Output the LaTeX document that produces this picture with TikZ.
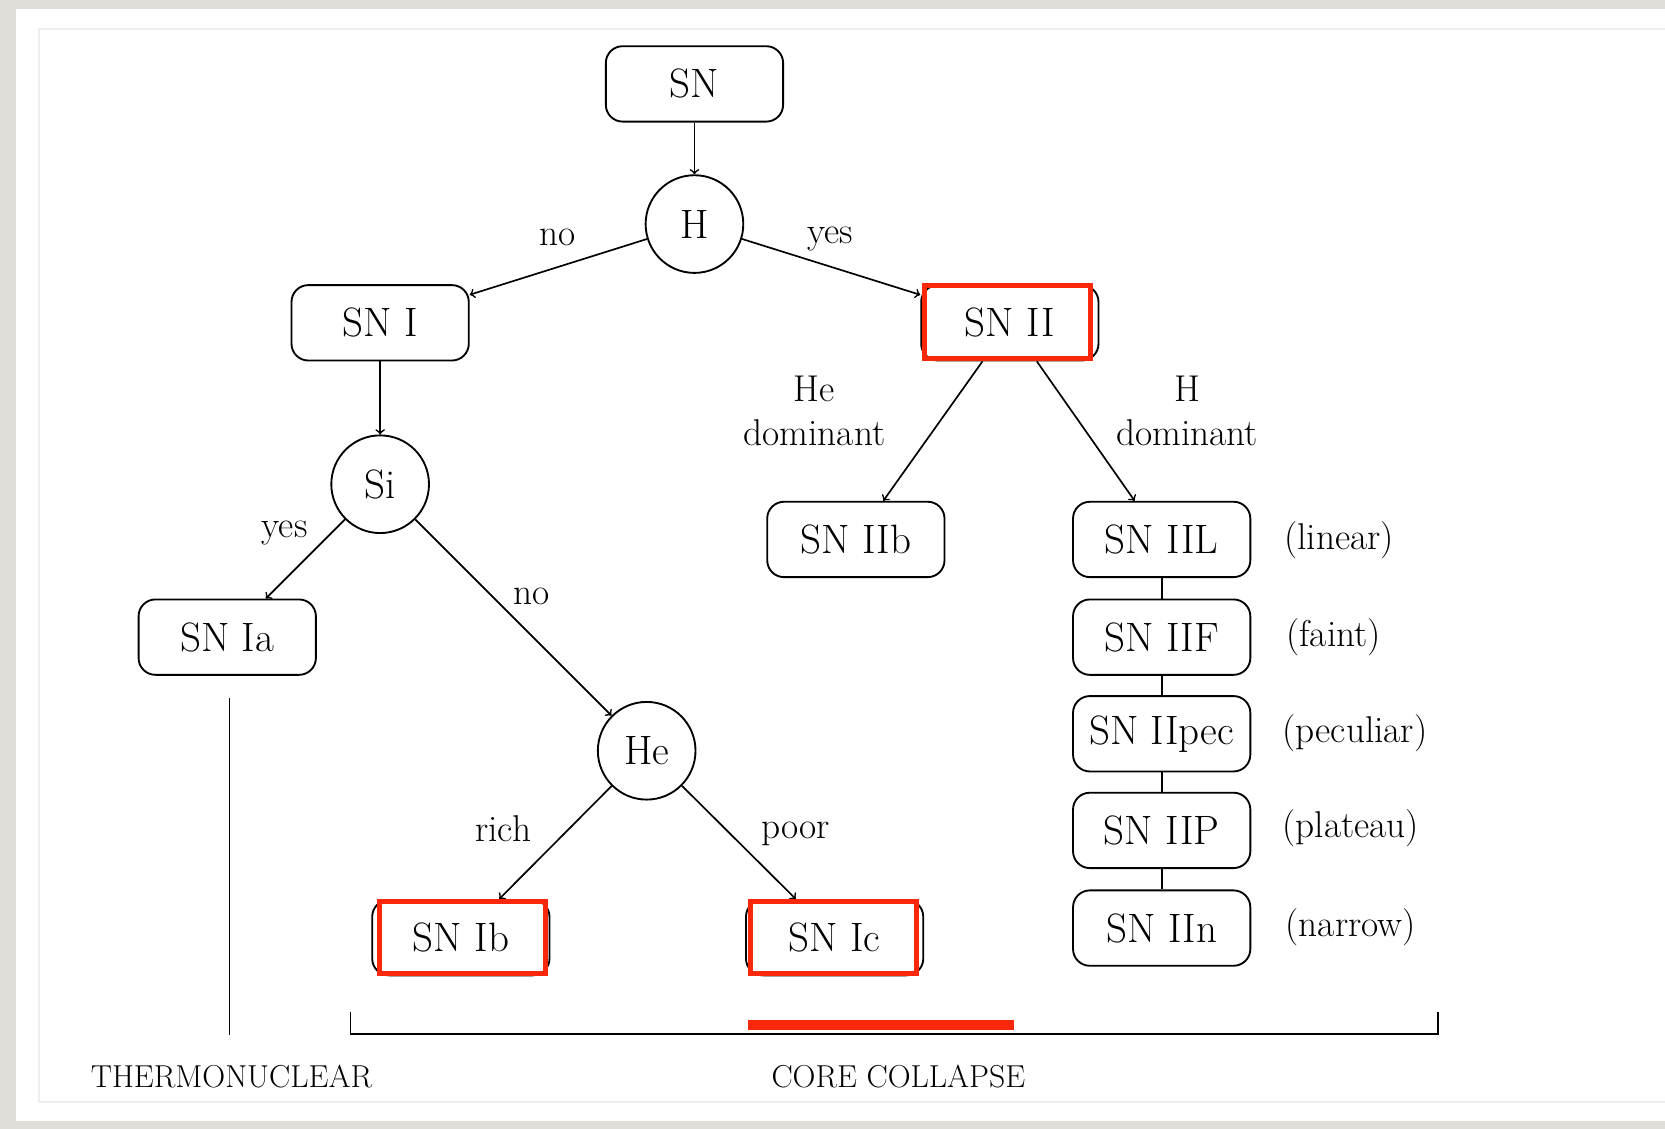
\documentclass[tikz,border=0pt]{standalone}
\usepackage{tikz}
\usepackage{xcolor}
\usetikzlibrary{arrows,shapes,calc,positioning}
\definecolor{hired}{RGB}{250,40,10}
\definecolor{pagegray}{RGB}{224,222,216}
\definecolor{framegray}{RGB}{238,238,238}
\tikzset{
    box/.style={draw, rounded corners=9pt, line width=1pt, minimum width=3.34cm, minimum height=1.42cm, inner sep=0pt, font=\fontsize{22}{26}\selectfont},
    test/.style={draw, circle, line width=1pt, minimum size=1.84cm, inner sep=0pt, font=\fontsize{22}{26}\selectfont},
    lbl/.style={font=\fontsize{20}{24}\selectfont, align=center, inner sep=0pt},
    kind/.style={font=\fontsize{17}{21}\selectfont, inner sep=0pt},
    hilite/.style={draw=hired, line width=2.6pt},
    arr/.style={->, line width=0.9pt}
}

\begin{document}
\begin{tikzpicture}[x=0.02cm, y=-0.02cm]
                        \useasboundingbox (0, 0) rectangle (1568, 1063);
                        \fill[pagegray] (0, 0) rectangle (1568, 1063);
                        \fill[white] (15, 8) rectangle (1568, 1056);
                        \draw[framegray, line width=1pt] (1568, 27) -- (37, 27) -- (37, 1038) -- (1568, 1038);

                        \node[box] (sn) at (654, 79) {SN};
                        \node[test] (h) at (654, 211) {H};
                        \node[box] (sni) at (358, 304) {SN I};
                        \node[box] (snii) at (951, 304) {SN II};
                        \node[test] (si) at (358, 456) {Si};
                        \node[box] (snia) at (214, 600) {SN Ia};
                        \node[test] (he) at (609, 707) {He};
                        \node[box] (snib) at (434, 883) {SN Ib};
                        \node[box] (snic) at (786, 883) {SN Ic};
                        \node[box] (sniib) at (806, 508) {SN IIb};
                        \node[box] (sniil) at (1094, 508) {SN IIL};
                        \node[box] (sniif) at (1094, 600) {SN IIF};
                        \node[box] (sniipec) at (1094, 691) {SN IIpec};
                        \node[box] (sniip) at (1094, 782) {SN IIP};
                        \node[box] (sniin) at (1094, 874) {SN IIn};

                        \node[lbl] (hno) at (525, 224) {no};
                        \node[lbl] (hyes) at (782, 225) {yes};
                        \node[lbl] (siyes) at (268, 502) {yes};
                        \node[lbl] (sino) at (501, 562) {no};
                        \node[lbl] (herich) at (474, 780) {rich};
                        \node[lbl] (hepoor) at (749, 785) {poor};
                        \node[lbl] (hedom) at (767, 387) {He\\dominant};
                        \node[lbl] (hdom) at (1118, 387) {H\\dominant};

                        \node[lbl] (linear) at (1261, 509) {(linear)};
                        \node[lbl] (faint) at (1256, 600) {(faint)};
                        \node[lbl] (peculiar) at (1276, 690) {(peculiar)};
                        \node[lbl] (plateau) at (1272, 780) {(plateau)};
                        \node[lbl] (narrow) at (1272, 873) {(narrow)};

                        \node[kind] (thermo) at (218, 1014) {THERMONUCLEAR};
                        \node[kind] (core) at (846, 1014) {CORE COLLAPSE};

                        \draw[arr]
                        (sn) edge (h)
                        (h) edge (sni)
                        (h) edge (snii)
                        (sni) edge (si)
                        (si) edge (snia)
                        (si) edge (he)
                        (he) edge (snib)
                        (he) edge (snic)
                        (snii) edge (sniib)
                        (snii) edge (sniil);

                        \draw[line width=0.9pt]
                        (sniil) -- (sniif)
                        (sniif) -- (sniipec)
                        (sniipec) -- (sniip)
                        (sniip) -- (sniin);

                        \coordinate (ttop) at (216, 657);
                        \coordinate (tbot) at (216, 975);
                        \draw[line width=0.9pt] (ttop) -- (tbot);
                        \draw[line width=0.9pt] (330, 953) -- (330, 974) -- (1354, 974) -- (1354, 953);

                        \draw[hilite] (871, 269) rectangle (1027, 338);
                        \draw[hilite] (357, 849) rectangle (514, 917);
                        \draw[hilite] (707, 849) rectangle (863, 917);
                        \fill[hired] (704, 961) rectangle (955, 970);
                    \end{tikzpicture}
\end{document}
